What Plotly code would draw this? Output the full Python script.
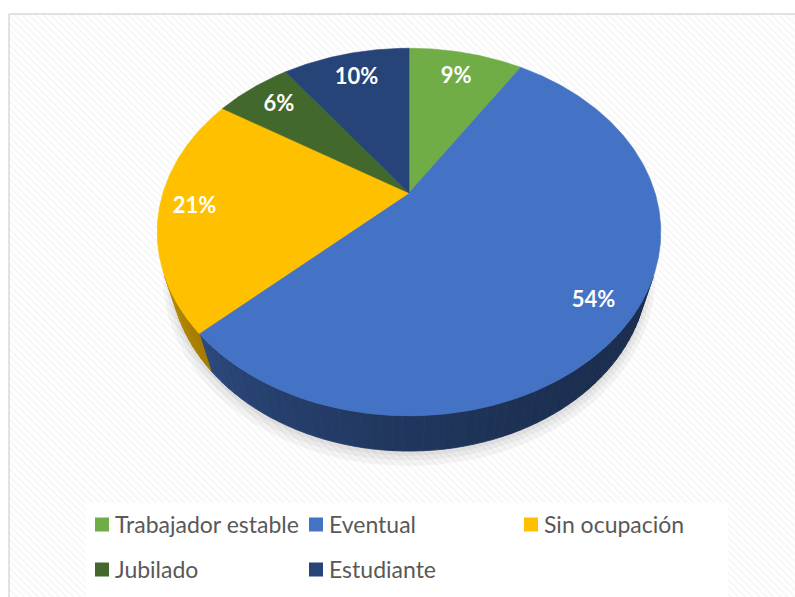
import numpy as np
import plotly.graph_objects as go

# ---------------- data ----------------
categories = ["Trabajador estable", "Eventual", "Sin ocupación", "Jubilado", "Estudiante"]
values = [9, 54, 21, 6, 10]
labels = ["9%", "54%", "21%", "6%", "10%"]
colors = ["#70AD47", "#4472C4", "#FFC000", "#43682B", "#264478"]

# ---------------- 3D projection / layout settings ----------------
W, H = 795, 597
CX, CY = 409, 193          # pie centre on screen
ELEV = np.radians(45.5)    # viewing elevation
DIST = 3.30                # camera distance (pie radius = 1)
FOC = 812                  # focal scale
THICK = 0.238              # pie thickness
label_radius = [0.80, 0.86, 0.86, 0.81, 0.80]


def proj(a_deg, r=1.0, h=0.0):
    a = np.radians(np.asarray(a_deg, dtype=float))
    u = np.asarray(r) * np.sin(a)
    v = np.asarray(r) * np.cos(a)
    c, s = np.cos(ELEV), np.sin(ELEV)
    den = DIST + v * c - h * s
    sx = u * FOC / den
    sy = (v * s + h * c) * FOC / den
    return CX + sx, CY - sy


def shade(hexcol, f):
    hexcol = hexcol.lstrip("#")
    r, g, b = (int(hexcol[i:i + 2], 16) for i in (0, 2, 4))
    return "rgb(%d,%d,%d)" % (r * f, g * f, b * f)


fig = go.Figure()

# chart area background (striped) and legend box
fig.add_trace(go.Scatter(
    x=[9, 810, 810, 9, 9], y=[14, 14, 620, 620, 14], mode="lines", fill="toself",
    fillcolor="#f7f7f7",
    fillpattern=dict(shape="\\", bgcolor="#ffffff", fgcolor="#efefef", size=5, solidity=0.45),
    line=dict(color="#d9d9d9", width=1.5), hoverinfo="skip", showlegend=False))
fig.add_trace(go.Scatter(
    x=[86, 728, 728, 86, 86], y=[503, 503, 620, 620, 503], mode="lines", fill="toself",
    fillcolor="#ffffff", line=dict(width=0), hoverinfo="skip", showlegend=False))

# slice angles
total = float(sum(values))
starts, ends = [], []
acc = 0.0
for v in values:
    starts.append(acc / total * 360.0)
    acc += v
    ends.append(acc / total * 360.0)

# soft shadow below the pie
full = np.linspace(0, 360, 241)
for rr, dh in [(1.035, 0.03), (1.02, 0.02), (1.008, 0.01)]:
    sx, sy = proj(full, rr, -THICK - dh)
    fig.add_trace(go.Scatter(x=sx, y=sy + 1, mode="lines", fill="toself",
                             fillcolor="rgba(0,0,0,0.04)", line=dict(width=0),
                             hoverinfo="skip", showlegend=False))

# visible side of the cylinder
phi0 = np.degrees(np.arccos(-1.0 / (DIST * np.cos(ELEV))))
vis_a, vis_b = phi0, 360.0 - phi0
for i in range(len(values)):
    a1, a2 = max(starts[i], vis_a), min(ends[i], vis_b)
    if a2 <= a1:
        continue
    nseg = max(1, int(np.ceil((a2 - a1) / 2.0)))
    edges = np.linspace(a1, a2, nseg + 1)
    for j in range(nseg):
        e1, e2 = edges[j], edges[j + 1]
        arc = np.linspace(e1, e2, 4)
        tx, ty = proj(arc, 1.0, 0.0)
        bx, by = proj(arc[::-1], 1.0, -THICK)
        t = ((e1 + e2) / 2 - vis_a) / (vis_b - vis_a)
        col = shade(colors[i], 0.40 + 0.32 * t * t)
        fig.add_trace(go.Scatter(x=np.r_[tx, bx, tx[:1]], y=np.r_[ty, by, ty[:1]],
                                 mode="lines", fill="toself", fillcolor=col,
                                 line=dict(color=col, width=0.8),
                                 hoverinfo="skip", showlegend=False))

# top faces
for i in range(len(values)):
    arc = np.linspace(starts[i], ends[i], max(3, int((ends[i] - starts[i]) * 2)))
    rx, ry = proj(arc, 1.0, 0.0)
    fig.add_trace(go.Scatter(x=np.r_[CX, rx, CX], y=np.r_[CY, ry, CY], mode="lines",
                             fill="toself", fillcolor=colors[i],
                             line=dict(color=colors[i], width=0.6),
                             name=categories[i], hoverinfo="name", showlegend=False))

# percentage labels
mids = np.array([(s + e) / 2 for s, e in zip(starts, ends)])
lx, ly = proj(mids, np.array(label_radius), 0.0)
fig.add_trace(go.Scatter(x=lx, y=ly, mode="text", text=labels,
                         textfont=dict(family="Lato", size=22, color="white", weight="bold"),
                         hoverinfo="skip", showlegend=False))

# legend (3 per row)
col_x = [102, 316, 531]
row_y = [524.5, 569.5]
for i, name in enumerate(categories):
    x0 = col_x[i % 3]
    y0 = row_y[i // 3]
    fig.add_trace(go.Scatter(x=[x0], y=[y0], mode="markers",
                             marker=dict(symbol="square", size=14, color=colors[i],
                                         line=dict(width=0)),
                             hoverinfo="skip", showlegend=False))
    fig.add_annotation(x=x0 + 11, y=y0 - 1, text=name, showarrow=False,
                       xanchor="left", yanchor="middle",
                       font=dict(family="Lato", size=23, color="#595959"))

fig.update_layout(
    width=W, height=H, margin=dict(l=0, r=0, t=0, b=0),
    paper_bgcolor="white", plot_bgcolor="white",
    xaxis=dict(range=[0, W], visible=False, fixedrange=True),
    yaxis=dict(range=[H, 0], visible=False, fixedrange=True),
    showlegend=False,
)

fig.write_html("out.html", config={"displayModeBar": False},
               post_script="document.body.style.margin='0';document.body.style.overflow='hidden';")
